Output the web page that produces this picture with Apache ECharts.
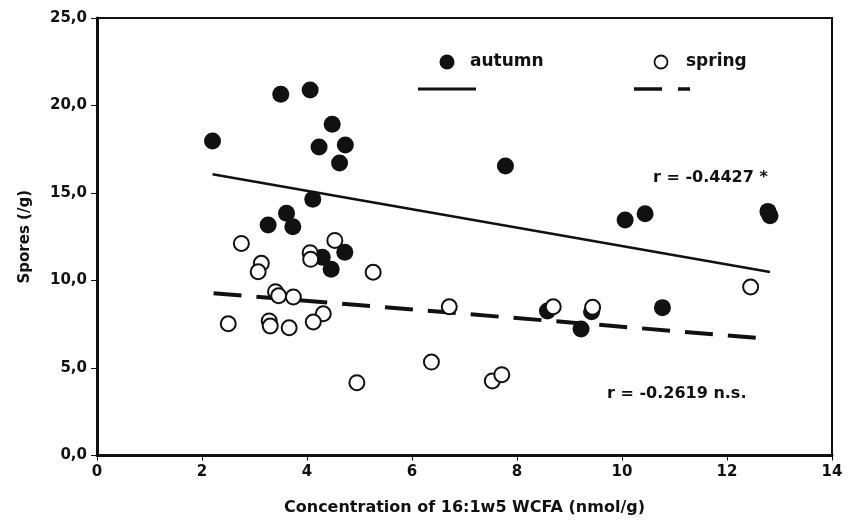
<!DOCTYPE html>
<html>
<head>
<meta charset="utf-8">
<script src="https://cdn.jsdelivr.net/npm/echarts@6/dist/echarts.min.js"></script>
<style>html,body{margin:0;padding:0;background:#fff}#c{width:856px;height:522px}</style>
</head>
<body>
<div id="c"></div>
<script>
var autumnX = [2.20, 3.50, 4.06, 4.48, 4.23, 4.73, 4.62, 4.11, 3.61, 3.26, 3.73, 4.29, 4.72, 4.46, 7.78, 10.06, 10.44, 12.78, 12.82, 8.58, 9.42, 9.22, 10.77];
var autumnY = [17.97, 20.64, 20.89, 18.93, 17.63, 17.74, 16.71, 14.64, 13.84, 13.17, 13.07, 11.33, 11.61, 10.64, 16.54, 13.46, 13.82, 13.95, 13.70, 8.26, 8.22, 7.23, 8.45];
var springX = [2.75, 4.53, 4.06, 4.07, 3.13, 3.07, 5.26, 3.40, 3.46, 3.74, 4.31, 2.50, 3.28, 3.30, 4.12, 3.66, 4.95, 12.45, 6.71, 8.69, 9.44, 6.37, 7.53, 7.71];
var springY = [12.12, 12.29, 11.59, 11.21, 10.98, 10.50, 10.47, 9.36, 9.13, 9.06, 8.10, 7.53, 7.69, 7.40, 7.63, 7.30, 4.16, 9.63, 8.50, 8.50, 8.47, 5.34, 4.26, 4.62];
var autumnFitX = [2.20, 12.82];
var autumnFitY = [16.07, 10.49];
var springFitX = [2.22, 12.68];
var springFitY = [9.27, 6.70];
var xTicks = [0, 2, 4, 6, 8, 10, 12, 14];
var yTicks = [0, 5, 10, 15, 20, 25];
var seriesNames = ['autumn', 'spring'];
var rAutumn = 'r = -0.4427 *';
var rSpring = 'r = -0.2619 n.s.';
var xName = 'Concentration of 16:1w5 WCFA (nmol/g)';
var yName = 'Spores (/g)';

function zip(a, b) { return a.map(function (v, i) { return [v, b[i]]; }); }

var FONT = 'DejaVu Sans';
var INK = '#111';

var chart = echarts.init(document.getElementById('c'), null, { renderer: 'canvas' });
chart.setOption({
  animation: false,
  backgroundColor: '#fff',
  grid: { left: 97, right: 24, top: 18, bottom: 66.5, show: true, borderColor: INK, borderWidth: 2, backgroundColor: 'transparent' },
  xAxis: {
    type: 'value', min: xTicks[0], max: xTicks[xTicks.length - 1], interval: 2,
    name: xName, nameLocation: 'middle', nameGap: 44,
    nameTextStyle: { fontFamily: FONT, fontWeight: 'bold', fontSize: 16, color: INK },
    axisLine: { show: true, onZero: false, lineStyle: { color: INK, width: 3 } },
    axisTick: { show: true, inside: false, length: 5, lineStyle: { color: INK, width: 1 } },
    axisLabel: { fontFamily: FONT, fontWeight: 'bold', fontSize: 15, color: INK, margin: 9 },
    splitLine: { show: false }
  },
  yAxis: {
    type: 'value', min: yTicks[0], max: yTicks[yTicks.length - 1], interval: 5,
    name: yName, nameLocation: 'middle', nameGap: 64, nameRotate: 90,
    nameTextStyle: { fontFamily: FONT, fontWeight: 'bold', fontSize: 15, color: INK },
    axisLine: { show: true, onZero: false, lineStyle: { color: INK, width: 3 } },
    axisTick: { show: true, inside: false, length: 6, lineStyle: { color: INK, width: 1 } },
    axisLabel: { fontFamily: FONT, fontWeight: 'bold', fontSize: 15, color: INK, margin: 10,
      formatter: function (v) { return v.toFixed(1).replace('.', ','); } },
    splitLine: { show: false }
  },
  series: [
    { name: 'autumnFit', type: 'line', data: zip(autumnFitX, autumnFitY), symbol: 'none', z: 1, silent: true,
      lineStyle: { color: INK, width: 2.5, opacity: 1 } },
    { name: 'springFit', type: 'line', data: zip(springFitX, springFitY), symbol: 'none', z: 1, silent: true,
      lineStyle: { color: INK, width: 4, type: [28, 15], opacity: 1 } },
    { name: seriesNames[0], type: 'scatter', data: zip(autumnX, autumnY), symbol: 'circle', symbolSize: 17, z: 2,
      itemStyle: { color: INK, opacity: 1 }, emphasis: { disabled: true } },
    { name: seriesNames[1], type: 'scatter', data: zip(springX, springY), symbol: 'circle', symbolSize: 15, z: 3,
      itemStyle: { color: '#fff', borderColor: INK, borderWidth: 2, opacity: 1 }, emphasis: { disabled: true } }
  ],
  graphic: [
    { type: 'circle', shape: { cx: 447, cy: 62, r: 7.5 }, style: { fill: INK } },
    { type: 'text', x: 470, y: 62, style: { text: seriesNames[0], font: 'bold 17px ' + FONT, fill: INK, textVerticalAlign: 'middle' } },
    { type: 'line', shape: { x1: 418, y1: 89, x2: 476, y2: 89 }, style: { stroke: INK, lineWidth: 3 } },
    { type: 'circle', shape: { cx: 661, cy: 62, r: 6.5 }, style: { fill: '#fff', stroke: INK, lineWidth: 1.8 } },
    { type: 'text', x: 686, y: 62, style: { text: seriesNames[1], font: 'bold 17px ' + FONT, fill: INK, textVerticalAlign: 'middle' } },
    { type: 'line', shape: { x1: 634, y1: 89, x2: 662, y2: 89 }, style: { stroke: INK, lineWidth: 3.5 } },
    { type: 'line', shape: { x1: 678, y1: 89, x2: 690, y2: 89 }, style: { stroke: INK, lineWidth: 3.5 } },
    { type: 'text', x: 653, y: 178, style: { text: rAutumn, font: 'bold 16px ' + FONT, fill: INK, textVerticalAlign: 'middle' } },
    { type: 'text', x: 607, y: 394, style: { text: rSpring, font: 'bold 16px ' + FONT, fill: INK, textVerticalAlign: 'middle' } }
  ]
});
</script>
</body>
</html>
